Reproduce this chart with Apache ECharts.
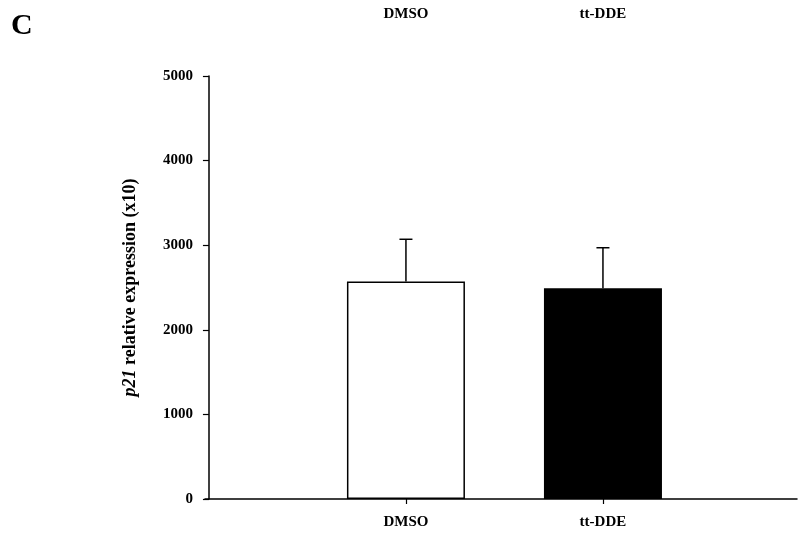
<!DOCTYPE html>
<html>
<head>
<meta charset="utf-8">
<style>
  html, body { margin: 0; padding: 0; background: #fff; }
  #chart { width: 798px; height: 539px; }
</style>
<script src="https://cdn.jsdelivr.net/npm/echarts@6/dist/echarts.min.js"></script>
</head>
<body>
<div id="chart"></div>
<script>
// ---- data ----
const categories = ['DMSO', 'tt-DDE'];
const meanValues = [2570, 2490];
const errorUpper = [3070, 2970];
const yTicks = [0, 1000, 2000, 3000, 4000, 5000];
const barColors = ['#ffffff', '#000000'];

const FONT = '"Liberation Serif", "Times New Roman", serif';
const positions = categories.map((c, i) => i + 1);

const chart = echarts.init(document.getElementById('chart'), null, { renderer: 'canvas' });

const catFormatter = v => {
  const i = positions.indexOf(Math.round(v));
  return i >= 0 ? categories[i] : '';
};

const option = {
  backgroundColor: '#ffffff',
  animation: false,
  title: {
    text: 'C',
    left: 6,
    top: 6,
    textStyle: { fontFamily: FONT, fontWeight: 'bold', fontSize: 30, color: '#000' }
  },
  grid: { left: 205, right: 1, top: 76, bottom: 40, containLabel: false },
  xAxis: [
    {
      type: 'value',
      position: 'bottom',
      min: -0.02,
      max: 2.985,
      splitLine: { show: false },
      axisLine: { show: true, onZero: false, lineStyle: { color: '#000', width: 1.5 } },
      axisTick: { show: true, customValues: positions, length: 5, lineStyle: { color: '#000', width: 1.2 } },
      axisLabel: {
        show: true, customValues: positions, formatter: catFormatter, margin: 16,
        fontFamily: FONT, fontWeight: 'bold', fontSize: 15, color: '#000'
      }
    },
    {
      type: 'value',
      position: 'top',
      min: -0.02,
      max: 2.985,
      splitLine: { show: false },
      axisLine: { show: false },
      axisTick: { show: false },
      axisLabel: {
        show: true, customValues: positions, formatter: catFormatter, margin: 54,
        fontFamily: FONT, fontWeight: 'bold', fontSize: 15, color: '#000'
      }
    }
  ],
  yAxis: {
    type: 'value',
    min: yTicks[0],
    max: yTicks[yTicks.length - 1],
    interval: 1000,
    splitLine: { show: false },
    axisLine: { show: true, lineStyle: { color: '#000', width: 1.5 } },
    axisTick: { show: true, length: 6, lineStyle: { color: '#000', width: 1.2 } },
    axisLabel: {
      margin: 12, fontFamily: FONT, fontWeight: 'bold', fontSize: 15, color: '#000',
      formatter: v => String(v)
    },
    name: '{i|p21} relative expression (x10)',
    nameLocation: 'middle',
    nameGap: 66,
    nameRotate: 90,
    nameTextStyle: {
      fontFamily: FONT, fontWeight: 'bold', fontSize: 18, color: '#000',
      rich: { i: { fontFamily: FONT, fontStyle: 'italic', fontWeight: 'bold', fontSize: 18, color: '#000' } }
    }
  },
  series: [
    {
      type: 'bar',
      xAxisIndex: 0,
      barWidth: 118,
      data: categories.map((c, i) => ({
        value: [positions[i], meanValues[i]],
        itemStyle: { color: barColors[i], borderColor: '#000', borderWidth: 1.5 }
      })),
      z: 2
    },
    {
      type: 'custom',
      xAxisIndex: 0,
      data: categories.map((c, i) => [positions[i], meanValues[i], errorUpper[i]]),
      renderItem: (params, api) => {
        const x = api.value(0);
        const base = api.coord([x, api.value(1)]);
        const top = api.coord([x, api.value(2)]);
        const cap = 6.5;
        const style = { stroke: '#000', lineWidth: 1.5 };
        return {
          type: 'group',
          children: [
            { type: 'line', shape: { x1: base[0], y1: base[1], x2: top[0], y2: top[1] }, style },
            { type: 'line', shape: { x1: top[0] - cap, y1: top[1], x2: top[0] + cap, y2: top[1] }, style }
          ]
        };
      },
      z: 3
    }
  ]
};

chart.setOption(option);
</script>
</body>
</html>
